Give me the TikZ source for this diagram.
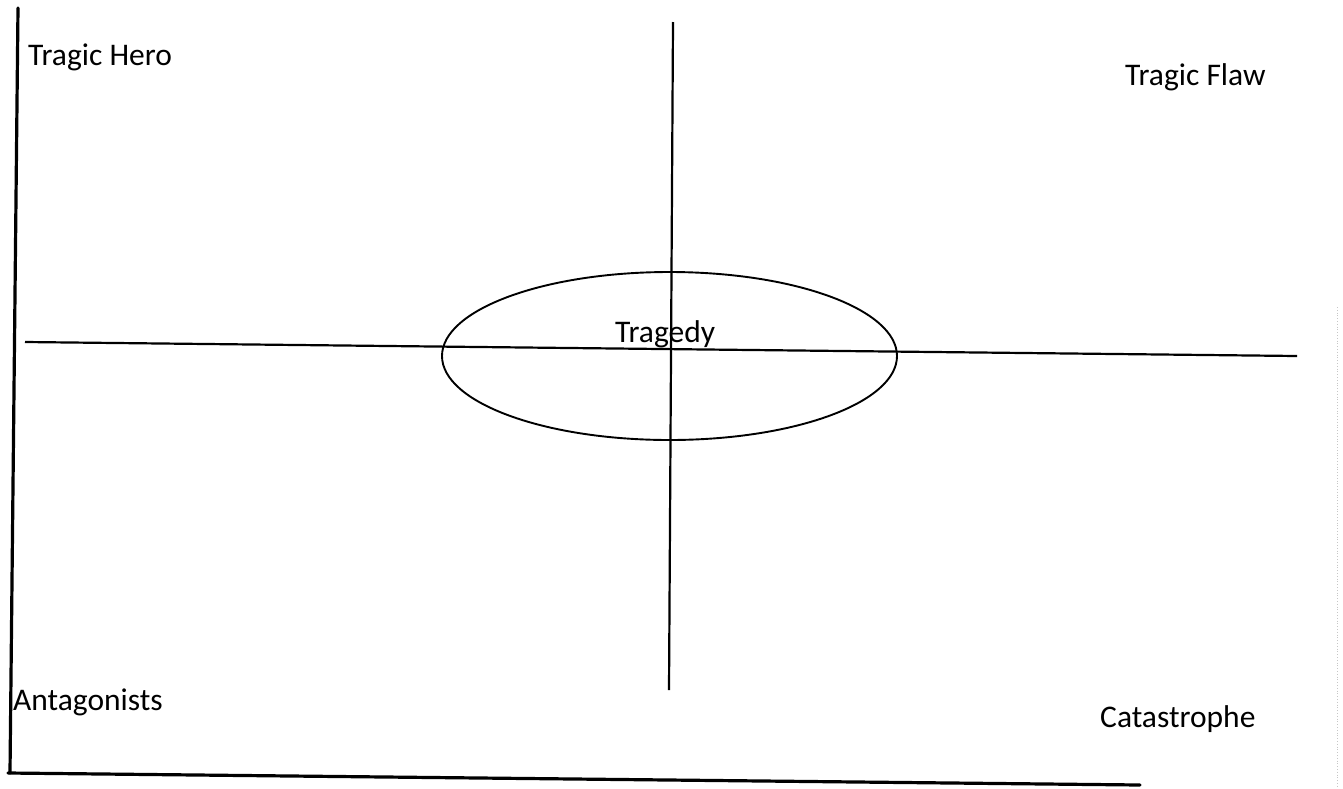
\documentclass[tikz,border=0pt]{standalone}
\usepackage{fontspec}
\setmainfont{Carlito}
\usetikzlibrary{shapes.geometric}
\tikzset{
  lbl/.style={anchor=base west, inner sep=0pt, font=\fontsize{31.5}{36}\selectfont},
  axis/.style={line width=3.2pt, line cap=round},
  midline/.style={line width=2.2pt},
  ring/.style={draw, ellipse, line width=1.9pt, inner sep=0pt},
  scanmark/.style={gray!45, line width=0.8pt, dotted}
}
\begin{document}
\begin{tikzpicture}[x=1pt,y=-1pt]
\useasboundingbox (0,0) rectangle (1343,788);
% coordinates of line ends
\coordinate (lt) at (18,8);
\coordinate (lb) at (10,773);
\coordinate (bl) at (8,773);
\coordinate (br) at (1140,785);
\coordinate (hl) at (25,342);
\coordinate (hr) at (1297,356);
\coordinate (vt) at (673,22);
\coordinate (vb) at (669,690);
\coordinate (dt) at (1337,307);
\coordinate (db) at (1337,786);
% axes
\draw[axis] (lt) -- (lb);
\draw[axis] (bl) -- (br);
\draw[midline] (hl) -- (hr);
\draw[midline] (vt) -- (vb);
\draw[scanmark] (dt) -- (db);
% ellipse
\node[ring, minimum width=455pt, minimum height=168pt] (ell) at (669.5,356) {};
% labels
\node[lbl] (hero) at (28,65) {Tragic Hero};
\node[lbl] (flaw) at (1125,85) {Tragic Flaw};
\node[lbl] (ant) at (13,710) {Antagonists};
\node[lbl] (cat) at (1100,727) {Catastrophe};
\node[lbl] (trag) at (615,342) {Tragedy};
\end{tikzpicture}
\end{document}
